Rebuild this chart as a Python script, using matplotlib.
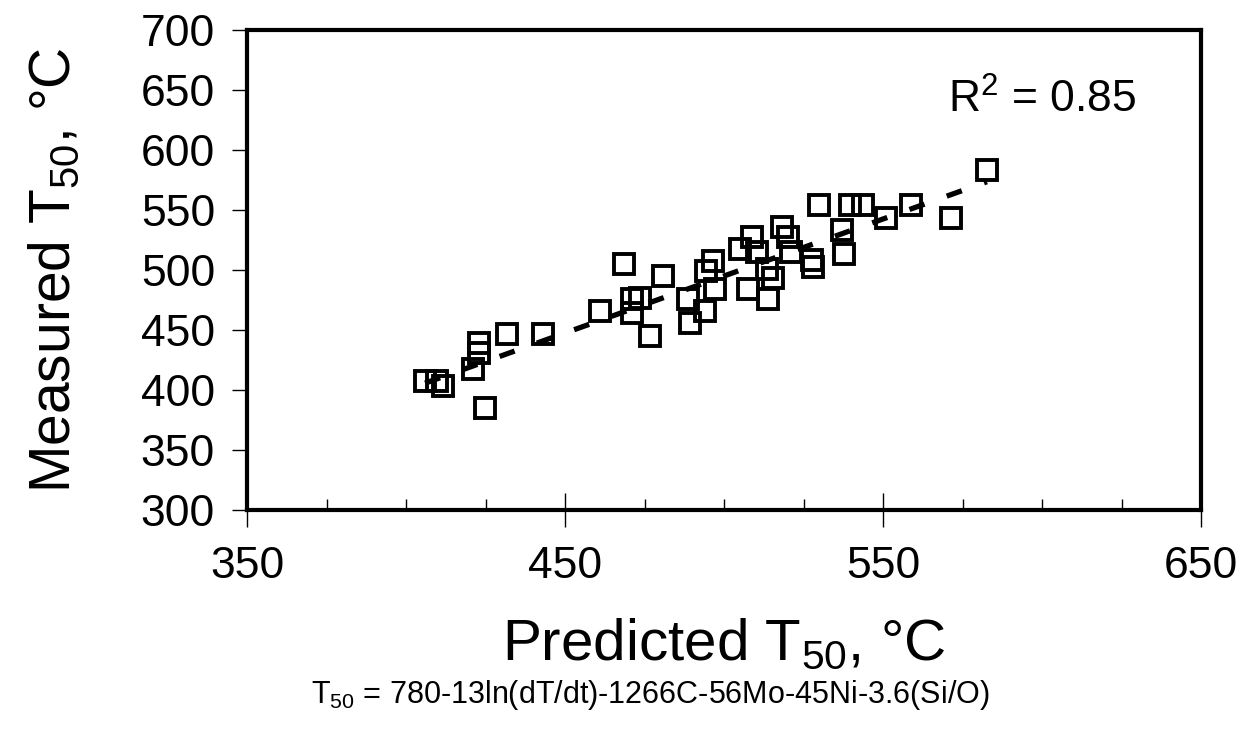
import numpy as np
import matplotlib
matplotlib.use("Agg")
import matplotlib.pyplot as plt
from matplotlib.ticker import FixedLocator, MultipleLocator

plt.rcParams['font.family'] = ['Liberation Sans', 'DejaVu Sans']
plt.rcParams['mathtext.fontset'] = 'custom'
plt.rcParams['mathtext.rm'] = 'Liberation Sans'
plt.rcParams['mathtext.it'] = 'Liberation Sans:italic'
plt.rcParams['lines.scale_dashes'] = False

# predicted vs measured T50
predicted = [406.0, 409.7, 411.6, 421.1, 423.0, 423.0, 431.8, 443.1, 424.8,
             461.0, 468.6, 480.8, 471.1, 473.6, 471.1, 476.7, 488.7, 489.3,
             494.0, 497.2, 494.3, 496.5, 505.0, 510.4, 508.8, 518.2, 520.1,
             507.5, 513.8, 515.4, 521.1, 527.7, 528.0, 513.5, 537.1, 537.7,
             529.9, 539.6, 543.7, 550.9, 558.8, 571.4, 582.7]
measured = [407.3, 407.3, 403.1, 417.3, 438.9, 430.6, 446.4, 446.4, 384.8,
            465.5, 505.4, 495.4, 475.5, 476.3, 463.8, 444.7, 475.5, 455.5,
            465.5, 483.8, 498.8, 507.1, 517.1, 515.4, 527.9, 536.2, 527.9,
            483.8, 475.5, 493.0, 515.4, 508.7, 502.9, 501.2, 533.7, 513.7,
            554.5, 554.5, 554.5, 543.7, 554.5, 543.7, 583.6]

x_ticks = [350, 450, 550, 650]
y_ticks = [300, 350, 400, 450, 500, 550, 600, 650, 700]

# linia trendu
trend_slope = 0.95
trend_intercept = 20.0
r2_text = "R$^{2}$ = 0.85"

fig = plt.figure(figsize=(12.51, 7.30), dpi=100)
ax = fig.add_axes([247 / 1251, 1 - 510 / 730, (1201 - 247) / 1251, (510 - 30) / 730])

ax.plot(predicted, measured, linestyle='none', marker='s', markersize=14.5,
        markerfacecolor='none', markeredgecolor='black', markeredgewidth=2.8)

tx = np.array([min(predicted), max(predicted)])
ax.plot(tx, trend_slope * tx + trend_intercept, color='black', linewidth=3.8,
        dashes=(11.5, 17.0))

ax.set_xlim(350, 650)
ax.set_ylim(300, 700)
ax.xaxis.set_major_locator(FixedLocator(x_ticks))
ax.xaxis.set_minor_locator(MultipleLocator(25))
ax.yaxis.set_major_locator(FixedLocator(y_ticks))

ax.tick_params(axis='x', which='major', direction='inout', length=24, width=1,
               labelsize=32, pad=14)
ax.tick_params(axis='x', which='minor', direction='in', length=8, width=1)
ax.tick_params(axis='y', which='major', direction='out', length=11, width=1,
               labelsize=32, pad=12)

for s in ax.spines.values():
    s.set_linewidth(3)

ax.set_xlabel("Predicted T$_{50}$, °C", fontsize=42, labelpad=22)
ax.set_ylabel("Measured T$_{50}$, °C", fontsize=41, labelpad=42)

fig.text(948 / 1251, 1 - 100 / 730, r2_text, fontsize=32, ha='left', va='center')
fig.text(650 / 1251, 1 - 695 / 730,
         "T$_{50}$ = 780-13ln(dT/dt)-1266C-56Mo-45Ni-3.6(Si/O)",
         fontsize=22, ha='center', va='center')

fig.savefig("out.png", dpi=100)
